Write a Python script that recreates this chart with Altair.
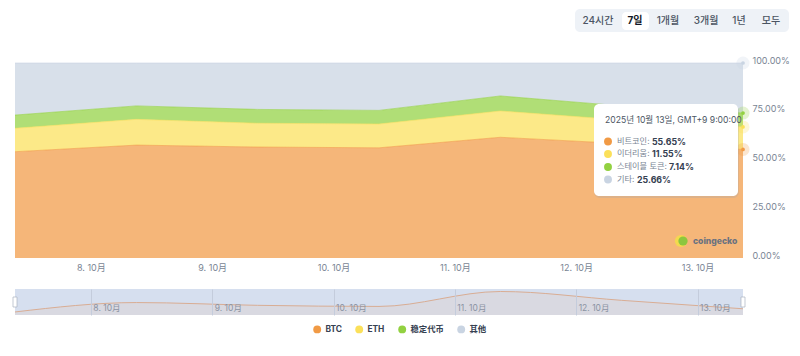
import altair as alt
import pandas as pd

dates = ["2025-10-07T09:00:00", "2025-10-08T09:00:00", "2025-10-09T09:00:00", "2025-10-10T09:00:00",
         "2025-10-11T09:00:00", "2025-10-12T09:00:00", "2025-10-13T09:00:00"]
series_names = ["BTC", "ETH", "稳定代币", "其他"]
btc = [54.5, 57.9, 56.9, 56.5, 61.9, 58.7, 55.65]
eth = [12.0, 13.2, 12.2, 12.2, 13.5, 12.1, 11.55]
stable = [6.8, 6.9, 7.1, 7.0, 7.7, 7.2, 7.14]
other = [26.7, 22.0, 23.8, 24.3, 16.9, 22.0, 25.66]
dots = ["#f19a45", "#fbe05a", "#92d141", "#c9d4e2"]
x_ticks = ["2025-10-08T00:00:00", "2025-10-09T00:00:00", "2025-10-10T00:00:00",
           "2025-10-11T00:00:00", "2025-10-12T00:00:00", "2025-10-13T00:00:00"]
y_ticks = [0, 25, 50, 75, 100]
ranges = ["24시간", "7일", "1개월", "3개월", "1년", "모두"]
tip_title = "2025년 10월 13일, GMT+9 9:00:00"
tip_labels = ["비트코인:", "이더리움:", "스테이블 토큰:", "기타:"]
tip_values = ["55.65%", "11.55%", "7.14%", "25.66%"]

FONT = "Inter, 'Noto Sans CJK KR', 'Noto Sans CJK SC', sans-serif"
OX, OY = 15, 63  # page position of the main plot's origin

rows = []
for i, name in enumerate(series_names):
    for d, v in zip(dates, [btc, eth, stable, other][i]):
        rows.append({"date": d, "series": name, "value": v, "order": i})
df = pd.DataFrame(rows)
btc_df = pd.DataFrame({"date": dates, "value": btc})
empty = alt.Data(values=[{}])

color = alt.Color("series:N", scale=alt.Scale(domain=series_names, range=dots),
                  legend=alt.Legend(title=None, orient="none", direction="horizontal", columns=4,
                                    legendX=298, legendY=262, symbolType="circle", symbolSize=62,
                                    symbolStrokeWidth=0, symbolOpacity=1, labelFont=FONT, labelFontSize=8.4,
                                    labelFontWeight=700, labelColor="#364152", columnPadding=13,
                                    labelOffset=4))

xs = alt.Scale(domain=[dates[0], dates[-1]])


def box(x, y, x2, y2, fill, radius=0, opacity=1):
    return alt.Chart(empty).mark_rect(fill=fill, cornerRadius=radius, opacity=opacity).encode(
        x=alt.value(x - OX), x2=alt.value(x2 - OX), y=alt.value(y - OY), y2=alt.value(y2 - OY))


def label(s, x, y, size=9.5, fill="#4b5563", weight=400, align="left"):
    return alt.Chart(empty).mark_text(text=s, font=FONT, fontSize=size, color=fill, fontWeight=weight,
                                      align=align, baseline="middle").encode(
        x=alt.value(x - OX), y=alt.value(y - OY))


def dot(x, y, size, fill, opacity=1):
    return alt.Chart(empty).mark_circle(size=size, color=fill, opacity=opacity).encode(
        x=alt.value(x - OX), y=alt.value(y - OY))


y_axis = alt.Axis(values=y_ticks, labelExpr="format(datum.value, '.2f') + '%'", domain=False,
                  ticks=False, grid=False, orient="right", labelPadding=9, labelOffset=-3,
                  labelFont=FONT, labelFontSize=9, labelColor="#7a8594")
y_scale = alt.Scale(domain=[0, 100], nice=False)
base_y = alt.Y("value:Q", stack="zero", title=None, scale=y_scale, axis=y_axis)
top_y = alt.Y("y1:Q", title=None, scale=y_scale, axis=y_axis)
base_x = alt.X("date:T", title=None, scale=xs,
               axis=alt.Axis(values=x_ticks, labelExpr="date(datum.value) + '. ' + (month(datum.value) + 1) + '月'",
                             domain=False, ticks=False, grid=False, labelPadding=5, labelAngle=0,
                             labelFont=FONT, labelFontSize=9, labelColor="#7a8594"))

stacked = alt.Chart(df).transform_stack(stack="value", groupby=["date"], sort=[alt.SortField("order")],
                                        as_=["y0", "y1"])
area = alt.Chart(df).mark_area(opacity=0.72).encode(x=base_x, y=base_y, order=alt.Order("order:Q"), color=color)
edge = stacked.mark_line(strokeWidth=1, opacity=0.6).encode(x=base_x, y=top_y, color=color)
last = alt.Chart(df[df.date == dates[-1]]).transform_stack(stack="value", groupby=["date"],
                                                           sort=[alt.SortField("order")], as_=["y0", "y1"])
halo = last.mark_circle(size=170, opacity=0.25).encode(x=base_x, y=top_y, color=color)
core = last.mark_circle(size=14, opacity=1).encode(x=base_x, y=top_y, color=color)

parts = [area, edge, halo, core]
# logo
parts += [dot(681, 241, 150, "#f3d94e"), dot(683, 241, 85, "#8cc63f"),
          label("coingecko", 693, 241, 8.6, "#6b7280", 800)]
# range selector
parts += [box(575, 9, 789, 32, "#eef2f7", 5), box(622, 12, 649, 30, "#ffffff", 4)]
for s, cx, w, c in zip(ranges, [598, 635, 668, 706, 739, 771], [500, 700, 500, 500, 500, 500],
                       ["#4b5563", "#111827", "#4b5563", "#4b5563", "#4b5563", "#4b5563"]):
    parts.append(label(s, cx, 20.5, 10, c, w, "center"))
# tooltip
parts += [box(594, 105, 739, 198, "#9aa5b4", 6, 0.25), box(594, 104, 738, 196, "#ffffff", 5)]
parts.append(label(tip_title, 605, 119.5, 8.6, "#4b5563", 400))
for lab, val, y, vx, c in zip(tip_labels, tip_values, [141.5, 154, 167, 179.5], [652, 652, 669, 637], dots):
    parts += [dot(608, y, 62, c), label(lab, 617, y, 8.2, "#7a8594"), label(val, vx, y, 8.8, "#364152", 700)]

main = alt.layer(*parts).resolve_scale(color="shared").properties(width=728, height=195)

nav_y = alt.Y("value:Q", title=None, axis=None, scale=alt.Scale(domain=[53.4, 62.8], zero=False, nice=False))
nav_x = alt.X("date:T", title=None, scale=xs,
              axis=alt.Axis(values=x_ticks, labelExpr="date(datum.value) + '. ' + (month(datum.value) + 1) + '月'",
                            domain=False, ticks=False, grid=True, gridColor="#c4ccdc", gridWidth=1, zindex=1,
                            labelAlign="left", labelPadding=-12, labelOffset=2, labelAngle=0,
                            labelFont=FONT, labelFontSize=8.5, labelColor="#8b93a3"))
nav_bg = alt.Chart(empty).mark_rect(fill="#d6dfef").encode(x=alt.value(0), x2=alt.value(728), y=alt.value(0), y2=alt.value(26))
nav_area = alt.Chart(btc_df).mark_area(interpolate="monotone", fill="#f0b27a", opacity=0.12, clip=True).encode(x=nav_x, y=nav_y)
nav_line = alt.Chart(btc_df).mark_line(interpolate="monotone", color="#d9ad94", strokeWidth=1, clip=True).encode(x=nav_x, y=nav_y)
handles = [alt.Chart(empty).mark_rect(fill="#ffffff", stroke="#aab3c0", strokeWidth=0.7).encode(
    x=alt.value(hx - 2), x2=alt.value(hx + 2), y=alt.value(8), y2=alt.value(18)) for hx in [0, 728]]
nav = alt.layer(nav_bg, nav_area, nav_line, *handles).properties(width=728, height=26)

chart = alt.vconcat(main, nav, spacing=31, bounds="flush").resolve_scale(color="shared").properties(
    padding={"left": 4, "top": 1, "right": 0, "bottom": 0}
).configure_view(stroke=None).configure_axis(labelFont=FONT)

chart.save("out.html", embed_options={"renderer": "svg", "actions": False})
